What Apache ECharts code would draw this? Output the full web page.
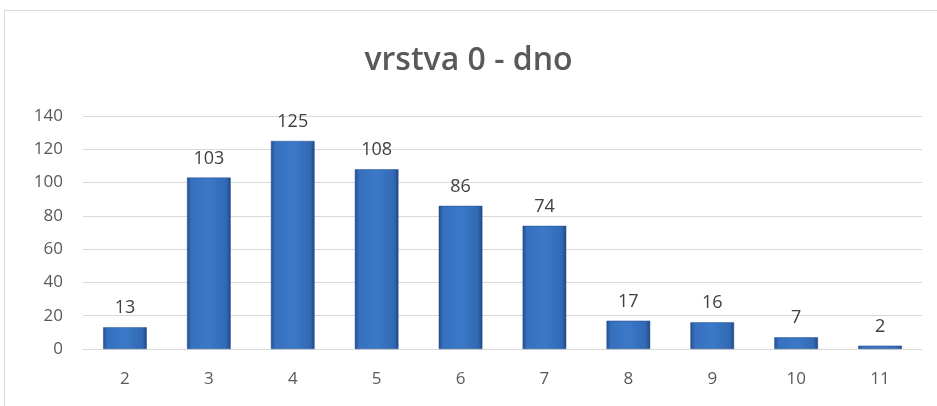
<!DOCTYPE html>
<html>
<head>
<meta charset="utf-8">
<script src="https://cdn.jsdelivr.net/npm/echarts@6/dist/echarts.min.js"></script>
<style>
  html, body { margin: 0; padding: 0; background: #fff; }
  #chart { width: 937px; height: 406px; }
</style>
</head>
<body>
<div id="chart"></div>
<script>
  // data
  var categories = ['2', '3', '4', '5', '6', '7', '8', '9', '10', '11']
  var counts = [13, 103, 125, 108, 86, 74, 17, 16, 7, 2]
  var yTicks = [0, 20, 40, 60, 80, 100, 120, 140]

  var chart = echarts.init(document.getElementById('chart'))

  var barColor = new echarts.graphic.LinearGradient(0, 0, 1, 0, [
    { offset: 0, color: '#244f8f' },
    { offset: 0.1, color: '#3670bf' },
    { offset: 0.5, color: '#3b79c8' },
    { offset: 0.9, color: '#3269b4' },
    { offset: 1, color: '#1f4782' }
  ])

  chart.setOption({
    backgroundColor: '#fff',
    animation: false,
    title: {
      text: 'vrstva 0 - dno',
      left: 'center',
      top: 40,
      textStyle: {
        fontFamily: 'Open Sans',
        fontWeight: 600,
        fontSize: 32,
        color: '#595959'
      }
    },
    graphic: [{
      type: 'rect',
      shape: { x: 4.5, y: 10.5, width: 1000, height: 500 },
      style: { fill: 'none', stroke: '#d9d9d9', lineWidth: 1 },
      silent: true
    }],
    grid: {
      left: 83,
      right: 15,
      top: 116,
      bottom: 57
    },
    xAxis: {
      type: 'category',
      data: categories,
      axisLine: { show: true, lineStyle: { color: '#d9d9d9', width: 1 } },
      axisTick: { show: false },
      axisLabel: {
        margin: 22,
        fontFamily: 'Open Sans',
        fontSize: 17,
        color: '#595959'
      }
    },
    yAxis: {
      type: 'value',
      min: yTicks[0],
      max: yTicks[yTicks.length - 1],
      interval: 20,
      axisLine: { show: false },
      axisTick: { show: false },
      axisLabel: {
        margin: 20,
        fontFamily: 'Open Sans',
        fontSize: 17,
        color: '#595959'
      },
      splitLine: { lineStyle: { color: '#d9d9d9', width: 1 } }
    },
    series: [{
      type: 'bar',
      data: counts,
      barWidth: '52%',
      itemStyle: {
        color: barColor,
        borderColor: '#234d8c',
        borderWidth: 0.5
      },
      label: {
        show: true,
        position: 'top',
        distance: 10,
        fontFamily: 'Open Sans',
        fontSize: 18,
        color: '#404040'
      }
    }]
  })
</script>
</body>
</html>
